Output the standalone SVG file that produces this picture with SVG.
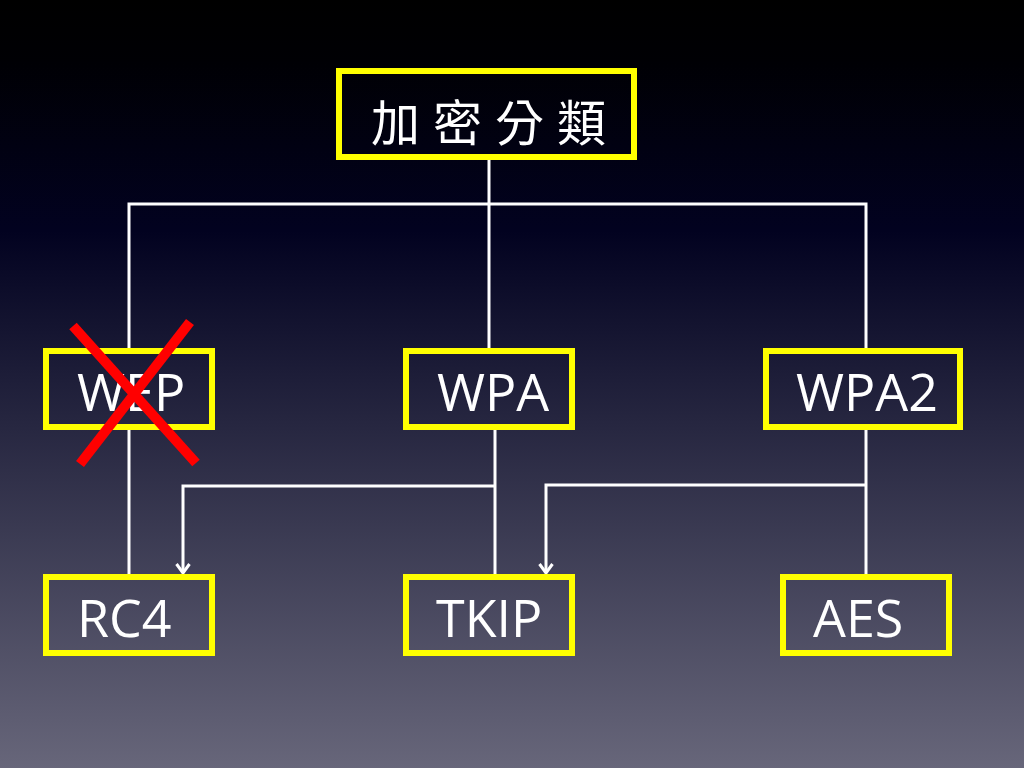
<svg xmlns="http://www.w3.org/2000/svg" width="1024" height="768" viewBox="0 0 1024 768">
<defs>
<linearGradient id="bg" x1="0" y1="0" x2="0" y2="1">
<stop offset="0" stop-color="#000000"/>
<stop offset="0.08" stop-color="#000004"/>
<stop offset="0.3" stop-color="#020220"/>
<stop offset="0.55" stop-color="#262640"/>
<stop offset="1" stop-color="#67667a"/>
</linearGradient>
<marker id="arr" viewBox="0 0 12 16" refX="10" refY="8" markerWidth="12" markerHeight="16" markerUnits="userSpaceOnUse" orient="auto">
<path d="M1 1.5 L10 8 L1 14.5" fill="none" stroke="#ffffff" stroke-width="3"/>
</marker>
<style>
.box{fill:none;stroke:#ffff00;stroke-width:6}
.lbl{font-family:"Open Sans","Liberation Sans",sans-serif;font-size:52px;fill:#ffffff}
.cjk{font-family:"Noto Sans CJK TC","Noto Sans CJK SC",serif;font-size:49px;fill:#ffffff;letter-spacing:13px}
.ln{fill:none;stroke:#ffffff;stroke-width:3}
.x{stroke:#ff0000;stroke-width:10;stroke-linecap:butt}
</style>
</defs>
<rect x="0" y="0" width="1024" height="768" fill="url(#bg)"/>
<g id="connectors">
<path class="ln" d="M489 160 V348"/>
<path class="ln" d="M129 348 V204 H866 V348"/>
<path class="ln" d="M129 430 V574"/>
<path class="ln" d="M495 430 V574"/>
<path class="ln" d="M866 430 V574"/>
<path class="ln" d="M495 486 H183 V573" marker-end="url(#arr)"/>
<path class="ln" d="M866 485 H546 V573" marker-end="url(#arr)"/>
</g>
<g id="root"><rect class="box" x="339" y="71" width="295" height="86"/><text class="cjk" x="371" y="141">加密分類</text></g>
<g id="wep"><rect class="box" x="46" y="351" width="166" height="76"/><text class="lbl" x="77" y="411">WEP</text></g>
<g id="wpa"><rect class="box" x="406" y="351" width="166" height="76"/><text class="lbl" x="437" y="411">WPA</text></g>
<g id="wpa2"><rect class="box" x="766" y="351" width="194" height="76"/><text class="lbl" x="796" y="411">WPA2</text></g>
<g id="rc4"><rect class="box" x="46" y="577" width="166" height="76"/><text class="lbl" x="77" y="637">RC4</text></g>
<g id="tkip"><rect class="box" x="406" y="577" width="166" height="76"/><text class="lbl" x="436" y="637">TKIP</text></g>
<g id="aes"><rect class="box" x="783" y="577" width="166" height="76"/><text class="lbl" x="813" y="637">AES</text></g>
<g id="cross">
<line class="x" x1="73" y1="326" x2="196" y2="463"/>
<line class="x" x1="190" y1="322" x2="80" y2="464"/>
</g>
</svg>
